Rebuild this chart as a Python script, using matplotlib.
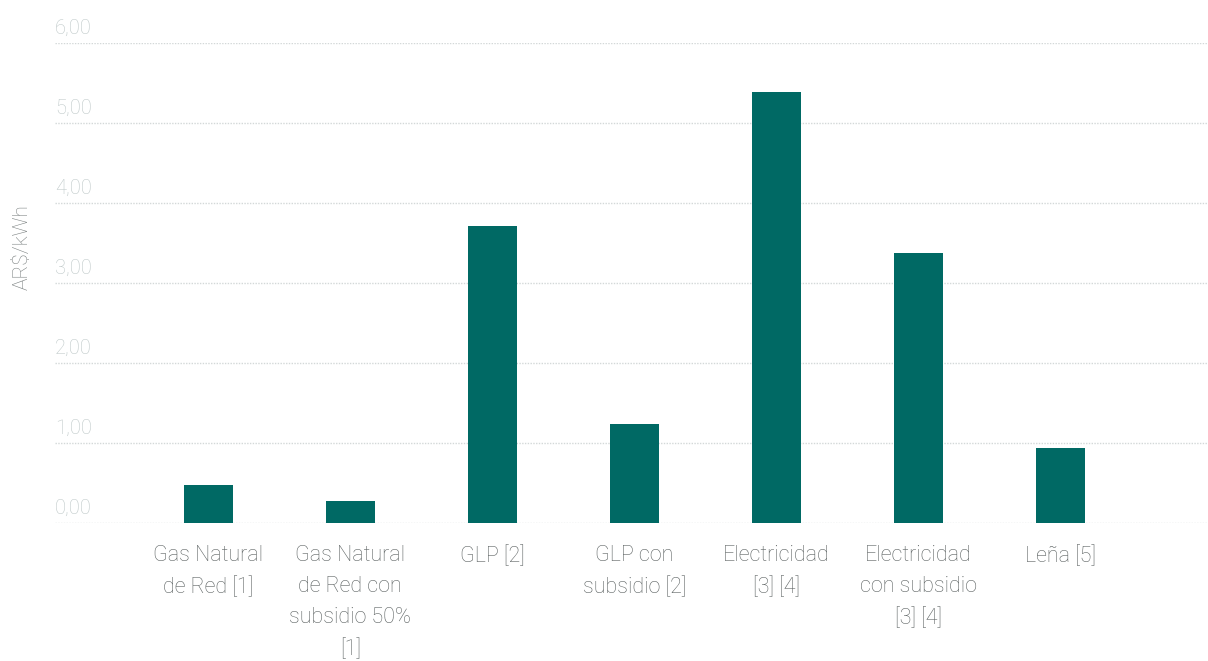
import matplotlib
matplotlib.use("Agg")
import matplotlib.pyplot as plt
from matplotlib import transforms

plt.rcParams['font.family'] = ['Roboto', 'DejaVu Sans']

categories = [
    "Gas Natural\nde Red [1]",
    "Gas Natural\nde Red con\nsubsidio 50%\n[1]",
    "GLP [2]",
    "GLP con\nsubsidio [2]",
    "Electricidad\n[3] [4]",
    "Electricidad\ncon subsidio\n[3] [4]",
    "Leña [5]",
]
values = [0.47, 0.28, 3.71, 1.24, 5.39, 3.37, 0.94]
y_ticks = [0, 1, 2, 3, 4, 5, 6]
y_tick_labels = ["0,00", "1,00", "2,00", "3,00", "4,00", "5,00", "6,00"]

bar_color = "#006964"
grid_color = "#d3d8d8"
tick_color = "#bec8c8"
label_color = "#5c6262"

fig = plt.figure(figsize=(12.08, 6.61), dpi=100)
ax = fig.add_axes([55 / 1208, 1 - 523 / 661, 1 - 55 / 1208, (523 - 43) / 661])

x = list(range(len(categories)))
ax.bar(x, values, width=0.345, color=bar_color, zorder=3)

ax.set_ylim(0, 6)
ax.set_xlim(-1.08, 7.04)

for s in ax.spines.values():
    s.set_visible(False)
ax.set_yticks([])
ax.set_xticks([])

# dotted horizontal guides with values sitting above them at the left edge
trans = transforms.blended_transform_factory(ax.transAxes, ax.transData)
for v, lab in zip(y_ticks, y_tick_labels):
    ax.axhline(v, color=grid_color, lw=1.0, ls=(0, (1, 1)), zorder=1)
    ax.annotate(lab, xy=(0, v), xycoords=trans, xytext=(0, 3.5),
                textcoords="offset points", ha="left", va="bottom",
                fontsize=14.5, color=tick_color, fontweight="light")

# category labels centred under each bar
for xi, cat in zip(x, categories):
    ax.annotate(cat, xy=(xi, 0), xycoords="data", xytext=(0, -16),
                textcoords="offset points", ha="center", va="top",
                fontsize=15.5, color=label_color, fontweight="light",
                linespacing=1.62)

fig.text(22 / 1208, 1 - 247 / 661, "AR$/kWh", rotation=90, ha="center",
         va="center", fontsize=15, color="#7b8181", fontweight="light")

fig.savefig("out.png", dpi=100)
